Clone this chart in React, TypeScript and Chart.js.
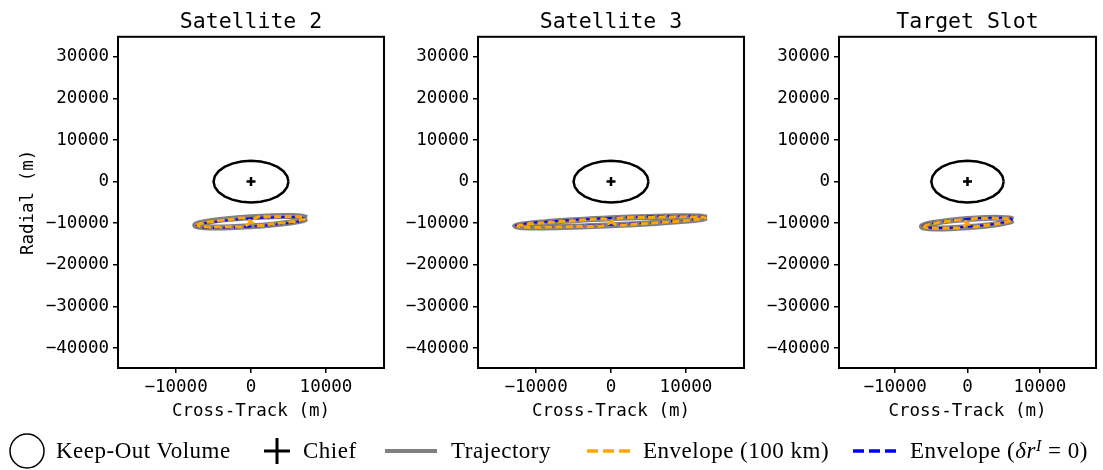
import React, { useEffect, useRef } from "react";
import { Chart, registerables } from "chart.js";

Chart.register(...registerables);

// ---------- data ----------
const PANEL_TITLES = ["Satellite 2", "Satellite 3", "Target Slot"];
const X_TICKS = [-10000, 0, 10000];
const Y_TICKS = [30000, 20000, 10000, 0, -10000, -20000, -30000, -40000];
const X_LIMITS = [-17750, 17750];
const Y_LIMITS = [-44800, 34800];
const X_LABEL = "Cross-Track (m)";
const Y_LABEL = "Radial (m)";

const KEEP_OUT_X = [5000, 4830, 4330, 3536, 2500, 1294, 0, -1294, -2500, -3536, -4330, -4830, -5000, -4830, -4330, -3536, -2500, -1294, 0, 1294, 2500, 3536, 4330, 4830, 5000];
const KEEP_OUT_Y = [0, 1294, 2500, 3536, 4330, 4830, 5000, 4830, 4330, 3536, 2500, 1294, 0, -1294, -2500, -3536, -4330, -4830, -5000, -4830, -4330, -3536, -2500, -1294, 0];
const CHIEF_X = [0];
const CHIEF_Y = [0];

// Satellite 2
const SAT2_TRAJ_X = [7450, 6884, 5267, 2853, 0, -2853, -5267, -6884, -7450, -6884, -5267, -2853, 0, 2853, 5267, 6884, 7450];
const SAT2_TRAJ_Y = [-8800, -8444, -8271, -8308, -8550, -8960, -9473, -10014, -10500, -10856, -11029, -10992, -10750, -10340, -9827, -9286, -8800];
const SAT2_ZERO_X = [7250, 6699, 5126, 2777, 0, -2777, -5126, -6699, -7250, -6699, -5126, -2777, 0, 2777, 5126, 6699, 7250];
const SAT2_ZERO_Y = [-8900, -8650, -8530, -8600, -8830, -9230, -9720, -10210, -10650, -10980, -11100, -11040, -10820, -10420, -9940, -9410, -8900];
const SAT2_ENV_X = [-7250, -6699, -5126, -2777, -800, 800, 2777, 5126, 6699, 7250, 6699, 5126, 2777, 800, -800, -2777, -5126, -6699, -7250];
const SAT2_ENV_Y = [-10500, -10071, -9579, -9098, -8800, -10500, -10202, -9721, -9229, -8800, -8501, -8377, -8446, -8612, -10688, -10854, -10923, -10799, -10500];

// Satellite 3
const SAT3_TRAJ_X = [12800, 11827, 9050, 4902, 0, -4902, -9050, -11827, -12800, -11827, -9050, -4902, 0, 4902, 9050, 11827, 12800];
const SAT3_TRAJ_Y = [-8650, -8400, -8350, -8500, -8820, -9290, -9800, -10300, -10700, -10980, -11050, -10880, -10520, -10050, -9530, -9040, -8650];
const SAT3_ZERO_X = [12700, 11735, 8979, 4864, 0, -4864, -8979, -11735, -12700, -11735, -8979, -4864, 0, 4864, 8979, 11735, 12700];
const SAT3_ZERO_Y = [-8550, -8300, -8250, -8400, -8720, -9194, -9691, -10168, -10550, -10780, -10823, -10672, -10350, -9906, -9409, -8932, -8550];
const SAT3_ENV_X = [-12600, -11642, -8908, -4826, -800, 800, 4826, 8908, 11642, 12600, 11642, 8908, 4826, 800, -800, -4826, -8908, -11642, -12600];
const SAT3_ENV_Y = [-10700, -10337, -9877, -9390, -9014, -10386, -10010, -9523, -9063, -8700, -8489, -8463, -8624, -8888, -10512, -10776, -10937, -10911, -10700];

// Target Slot
const SLOT_TRAJ_X = [6300, 5821, 4454, 2413, 0, -2413, -4454, -5821, -6300, -5821, -4454, -2413, 0, 2413, 4454, 5821, 6300];
const SLOT_TRAJ_Y = [-9200, -8878, -8727, -8770, -9000, -9382, -9859, -10356, -10800, -11122, -11273, -11230, -11000, -10618, -10141, -9644, -9200];
const SLOT_ZERO_X = [6200, 5729, 4384, 2375, 0, -2375, -4384, -5729, -6200, -5729, -4384, -2375, 0, 2375, 4384, 5729, 6200];
const SLOT_ZERO_Y = [-9100, -8810, -8680, -8730, -8960, -9330, -9800, -10280, -10700, -10990, -11120, -11070, -10850, -10470, -10010, -9530, -9100];
const SLOT_ENV_X = [-6100, -5636, -4313, -2336, -700, 700, 2336, 4313, 5636, 6100, 5636, 4313, 2336, 700, -700, -2336, -4313, -5636, -6100];
const SLOT_ENV_Y = [-10800, -10394, -9930, -9474, -9198, -10802, -10526, -10070, -9606, -9200, -8916, -8798, -8862, -9014, -10986, -11138, -11202, -11084, -10800];

const PANEL_DATA = [
  { traj: [SAT2_TRAJ_X, SAT2_TRAJ_Y], env: [SAT2_ENV_X, SAT2_ENV_Y], zero: [SAT2_ZERO_X, SAT2_ZERO_Y] },
  { traj: [SAT3_TRAJ_X, SAT3_TRAJ_Y], env: [SAT3_ENV_X, SAT3_ENV_Y], zero: [SAT3_ZERO_X, SAT3_ZERO_Y] },
  { traj: [SLOT_TRAJ_X, SLOT_TRAJ_Y], env: [SLOT_ENV_X, SLOT_ENV_Y], zero: [SLOT_ZERO_X, SLOT_ZERO_Y] },
];

// ---------- layout / style ----------
const PANEL_LAYOUT = [
  { left: 0, width: 400, yWidth: 118, padRight: 16, yTitle: true },
  { left: 400, width: 360, yWidth: 78, padRight: 16, yTitle: false },
  { left: 760, width: 343, yWidth: 79, padRight: 1, yTitle: false },
];
const CANVAS_H = 430;
const MONO = "'DejaVu Sans Mono', monospace";
const SERIF = "'Liberation Serif', 'DejaVu Serif', serif";
const GRAY = "#808080";
const ORANGE = "#FFA500";
const BLUE = "#0000FF";

const pts = (xs: number[], ys: number[]) => xs.map((x, i) => ({ x, y: ys[i] }));
const fmt = (v: number) => (v < 0 ? "\u2212" + Math.abs(v) : String(v));

const boxPlugin = {
  id: "box",
  afterDraw(chart: any) {
    const { ctx, chartArea } = chart;
    ctx.save();
    ctx.strokeStyle = "#000";
    ctx.lineWidth = 2;
    ctx.strokeRect(chartArea.left, chartArea.top, chartArea.right - chartArea.left, chartArea.bottom - chartArea.top);
    ctx.restore();
  },
};

function Panel({ idx }: { idx: number }) {
  const ref = useRef<HTMLCanvasElement | null>(null);
  const lay = PANEL_LAYOUT[idx];
  useEffect(() => {
    if (!ref.current) return;
    const d = PANEL_DATA[idx];
    const tickFont = { family: MONO, size: 17.5 };
    const chart = new Chart(ref.current, {
      type: "scatter",
      data: {
        datasets: [
          {
            label: "Chief",
            data: pts(CHIEF_X, CHIEF_Y),
            pointStyle: "cross",
            pointRadius: 4.5,
            pointBorderWidth: 2.5,
            pointBorderColor: "#000",
            borderColor: "#000",
            showLine: false,
            order: 0,
          },
          {
            label: "Keep-Out Volume",
            data: pts(KEEP_OUT_X, KEEP_OUT_Y),
            showLine: true,
            borderColor: "#000",
            borderWidth: 2.5,
            pointRadius: 0,
            tension: 0,
            order: 1,
          },
          {
            label: "Envelope (100 km)",
            data: pts(d.env[0], d.env[1]),
            showLine: true,
            borderColor: ORANGE,
            borderWidth: 3,
            borderDash: [7, 3.5],
            pointRadius: 0,
            tension: 0.3,
            order: 2,
          },
          {
            label: "Envelope (δr = 0)",
            data: pts(d.zero[0], d.zero[1]),
            showLine: true,
            borderColor: BLUE,
            borderWidth: 2,
            borderDash: [7, 3.5],
            pointRadius: 0,
            tension: 0.4,
            order: 3,
          },
          {
            label: "Trajectory",
            data: pts(d.traj[0], d.traj[1]),
            showLine: true,
            borderColor: GRAY,
            borderWidth: 6,
            pointRadius: 0,
            tension: 0.4,
            order: 4,
          },
        ],
      } as any,
      options: {
        animation: false,
        responsive: false,
        maintainAspectRatio: false,
        layout: { padding: { left: 0, right: lay.padRight, top: 0, bottom: 0 } },
        plugins: {
          legend: { display: false },
          tooltip: { enabled: false },
          title: {
            display: true,
            fullSize: false,
            text: PANEL_TITLES[idx],
            color: "#000",
            font: { family: MONO, size: 21.5, weight: "normal" },
            padding: { top: 10, bottom: 1 },
          },
        },
        scales: {
          x: {
            type: "linear",
            min: X_LIMITS[0],
            max: X_LIMITS[1],
            afterBuildTicks: (s: any) => {
              s.ticks = X_TICKS.map((v) => ({ value: v }));
            },
            afterFit: (s: any) => {
              s.height = 62;
            },
            ticks: {
              font: tickFont,
              color: "#000",
              padding: 4,
              maxRotation: 0,
              autoSkip: false,
              callback: (v: any) => fmt(Number(v)),
            },
            grid: { drawOnChartArea: false, drawTicks: true, tickLength: 5, color: "#000", lineWidth: 1.5 },
            border: { display: true, color: "#000", width: 2 },
            title: {
              display: true,
              text: X_LABEL,
              color: "#000",
              font: { family: MONO, size: 17.5 },
              padding: { top: 0, bottom: 8 },
            },
          },
          y: {
            type: "linear",
            min: Y_LIMITS[0],
            max: Y_LIMITS[1],
            afterBuildTicks: (s: any) => {
              s.ticks = Y_TICKS.map((v) => ({ value: v }));
            },
            afterFit: (s: any) => {
              s.width = lay.yWidth;
            },
            ticks: {
              font: tickFont,
              color: "#000",
              padding: 4,
              autoSkip: false,
              callback: (v: any) => fmt(Number(v)),
            },
            grid: { drawOnChartArea: false, drawTicks: true, tickLength: 5, color: "#000", lineWidth: 1.5 },
            border: { display: true, color: "#000", width: 2 },
            title: {
              display: lay.yTitle,
              text: Y_LABEL,
              color: "#000",
              font: { family: MONO, size: 17.5 },
              padding: { top: 17.5, bottom: 0 },
            },
          },
        },
      } as any,
      plugins: [boxPlugin],
    });
    return () => chart.destroy();
  }, [idx]);
  return (
    <canvas
      ref={ref}
      width={lay.width}
      height={CANVAS_H}
      style={{ position: "absolute", left: lay.left, top: 0, width: lay.width, height: CANVAS_H }}
    />
  );
}

const LEGEND_TEXT_TOP = 438;
const textStyle = (left: number): React.CSSProperties => ({
  position: "absolute",
  left,
  top: LEGEND_TEXT_TOP,
  height: 26,
  fontFamily: SERIF,
  fontSize: 23,
  lineHeight: "26px",
  letterSpacing: "0.5px",
  whiteSpace: "nowrap",
  color: "#000",
});

export default function App() {
  return (
    <div style={{ position: "absolute", left: 0, top: 0, width: 1103, height: 470, background: "#fff", overflow: "hidden" }}>
      {[0, 1, 2].map((i) => (
        <Panel key={i} idx={i} />
      ))}
      <svg width={1103} height={45} style={{ position: "absolute", left: 0, top: 425 }}>
        <circle cx={27} cy={26} r={17} fill="none" stroke="#000" strokeWidth={1.5} />
        <line x1={264} y1={26} x2={290} y2={26} stroke="#000" strokeWidth={3} />
        <line x1={277} y1={13} x2={277} y2={39} stroke="#000" strokeWidth={3} />
        <line x1={385} y1={26} x2={437} y2={26} stroke={GRAY} strokeWidth={4} />
        <line x1={587} y1={26} x2={630} y2={26} stroke={ORANGE} strokeWidth={3.5} strokeDasharray="11 5" />
        <line x1={853} y1={26} x2={897} y2={26} stroke={BLUE} strokeWidth={3.5} strokeDasharray="11 5" />
      </svg>
      <span style={textStyle(56)}>Keep-Out Volume</span>
      <span style={textStyle(303)}>Chief</span>
      <span style={textStyle(451)}>Trajectory</span>
      <span style={textStyle(643)}>Envelope (100 km)</span>
      <span style={textStyle(910)}>
        Envelope (<i>δr</i>
        <span style={{ position: "relative", top: "-0.45em", fontSize: "0.7em", fontStyle: "italic", lineHeight: 0 }}>I</span> = 0)
      </span>
    </div>
  );
}
